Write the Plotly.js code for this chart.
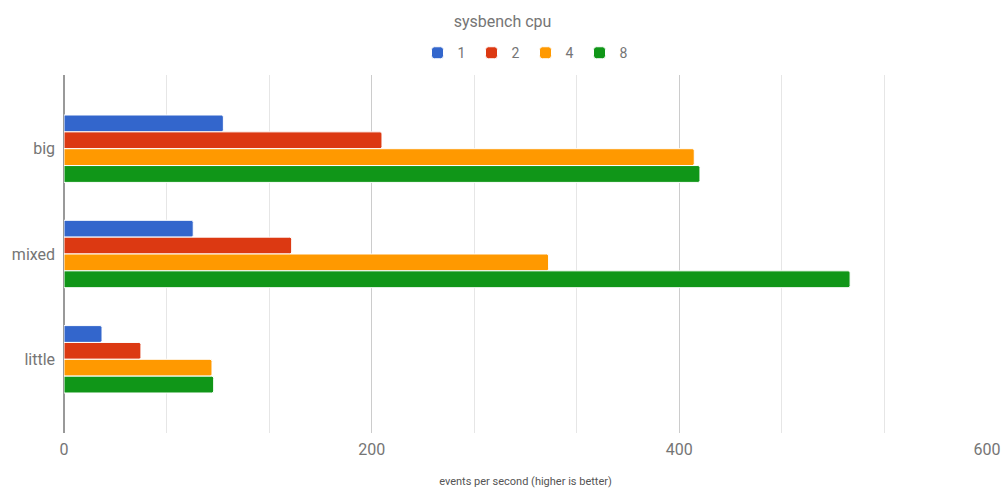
<!DOCTYPE html>
<html>
<head>
<meta charset="utf-8">
<script src="https://cdn.plot.ly/plotly-3.0.1.min.js"></script>
<style>html,body{margin:0;padding:0;background:#fff;}#chart{width:1005px;height:488px;}</style>
</head>
<body>
<div id="chart"></div>
<script>
const categories = ["big", "mixed", "little"];
const seriesNames = ["1", "2", "4", "8"];
const series1 = [103.6, 84, 24.7];
const series2 = [206.7, 148, 50];
const series4 = [409.7, 315, 96.2];
const series8 = [413.4, 511, 97.3];
const colors = ["#3366cc", "#dc3912", "#ff9900", "#109618"];
const allSeries = [series1, series2, series4, series8];

const traces = allSeries.map((vals, i) => ({
  type: "bar",
  orientation: "h",
  name: seriesNames[i],
  y: categories,
  x: vals,
  marker: {color: colors[i], line: {color: "#ffffff", width: 1}, cornerradius: 2},
  hoverinfo: "x+name"
}));

const layout = {
  width: 1005, height: 488,
  margin: {l: 64, r: 18, t: 75, b: 55},
  paper_bgcolor: "#fff", plot_bgcolor: "#fff",
  font: {family: "Roboto, sans-serif", color: "#757575"},
  title: {text: "sysbench cpu", x: 0.5, xanchor: "center", y: 0.956, yanchor: "middle",
          font: {size: 16, color: "#757575", family: "Roboto, sans-serif"}},
  barmode: "group",
  bargap: 0.36,
  bargroupgap: 0,
  showlegend: true,
  legend: {orientation: "h", x: 0.5, xanchor: "center", y: 1.061, yanchor: "middle",
           font: {size: 14, color: "#757575"}, itemwidth: 30, traceorder: "normal",
           entrywidth: 9, entrywidthmode: "pixels"},
  xaxis: {
    range: [0, 600], tickvals: [0, 200, 400, 600], ticks: "",
    tickfont: {size: 16, color: "#757575"}, ticklabelstandoff: 5,
    showgrid: true, gridcolor: "#cccccc", gridwidth: 1,
    minor: {dtick: 200/3, showgrid: true, gridcolor: "#e6e6e6", gridwidth: 1, ticks: ""},
    zeroline: true, zerolinecolor: "#999999", zerolinewidth: 1.5,
    showline: false, fixedrange: true,
    title: {text: "events per second (higher is better)", font: {size: 11, color: "#555555"}, standoff: 20}
  },
  yaxis: {
    type: "category", categoryorder: "array", categoryarray: categories,
    range: [2.7, -0.7], ticks: "", showgrid: false, zeroline: false,
    tickfont: {size: 16, color: "#757575"}, ticksuffix: "  ", fixedrange: true
  }
};

Plotly.newPlot("chart", traces, layout, {displayModeBar: false, staticPlot: true});
</script>
</body>
</html>
